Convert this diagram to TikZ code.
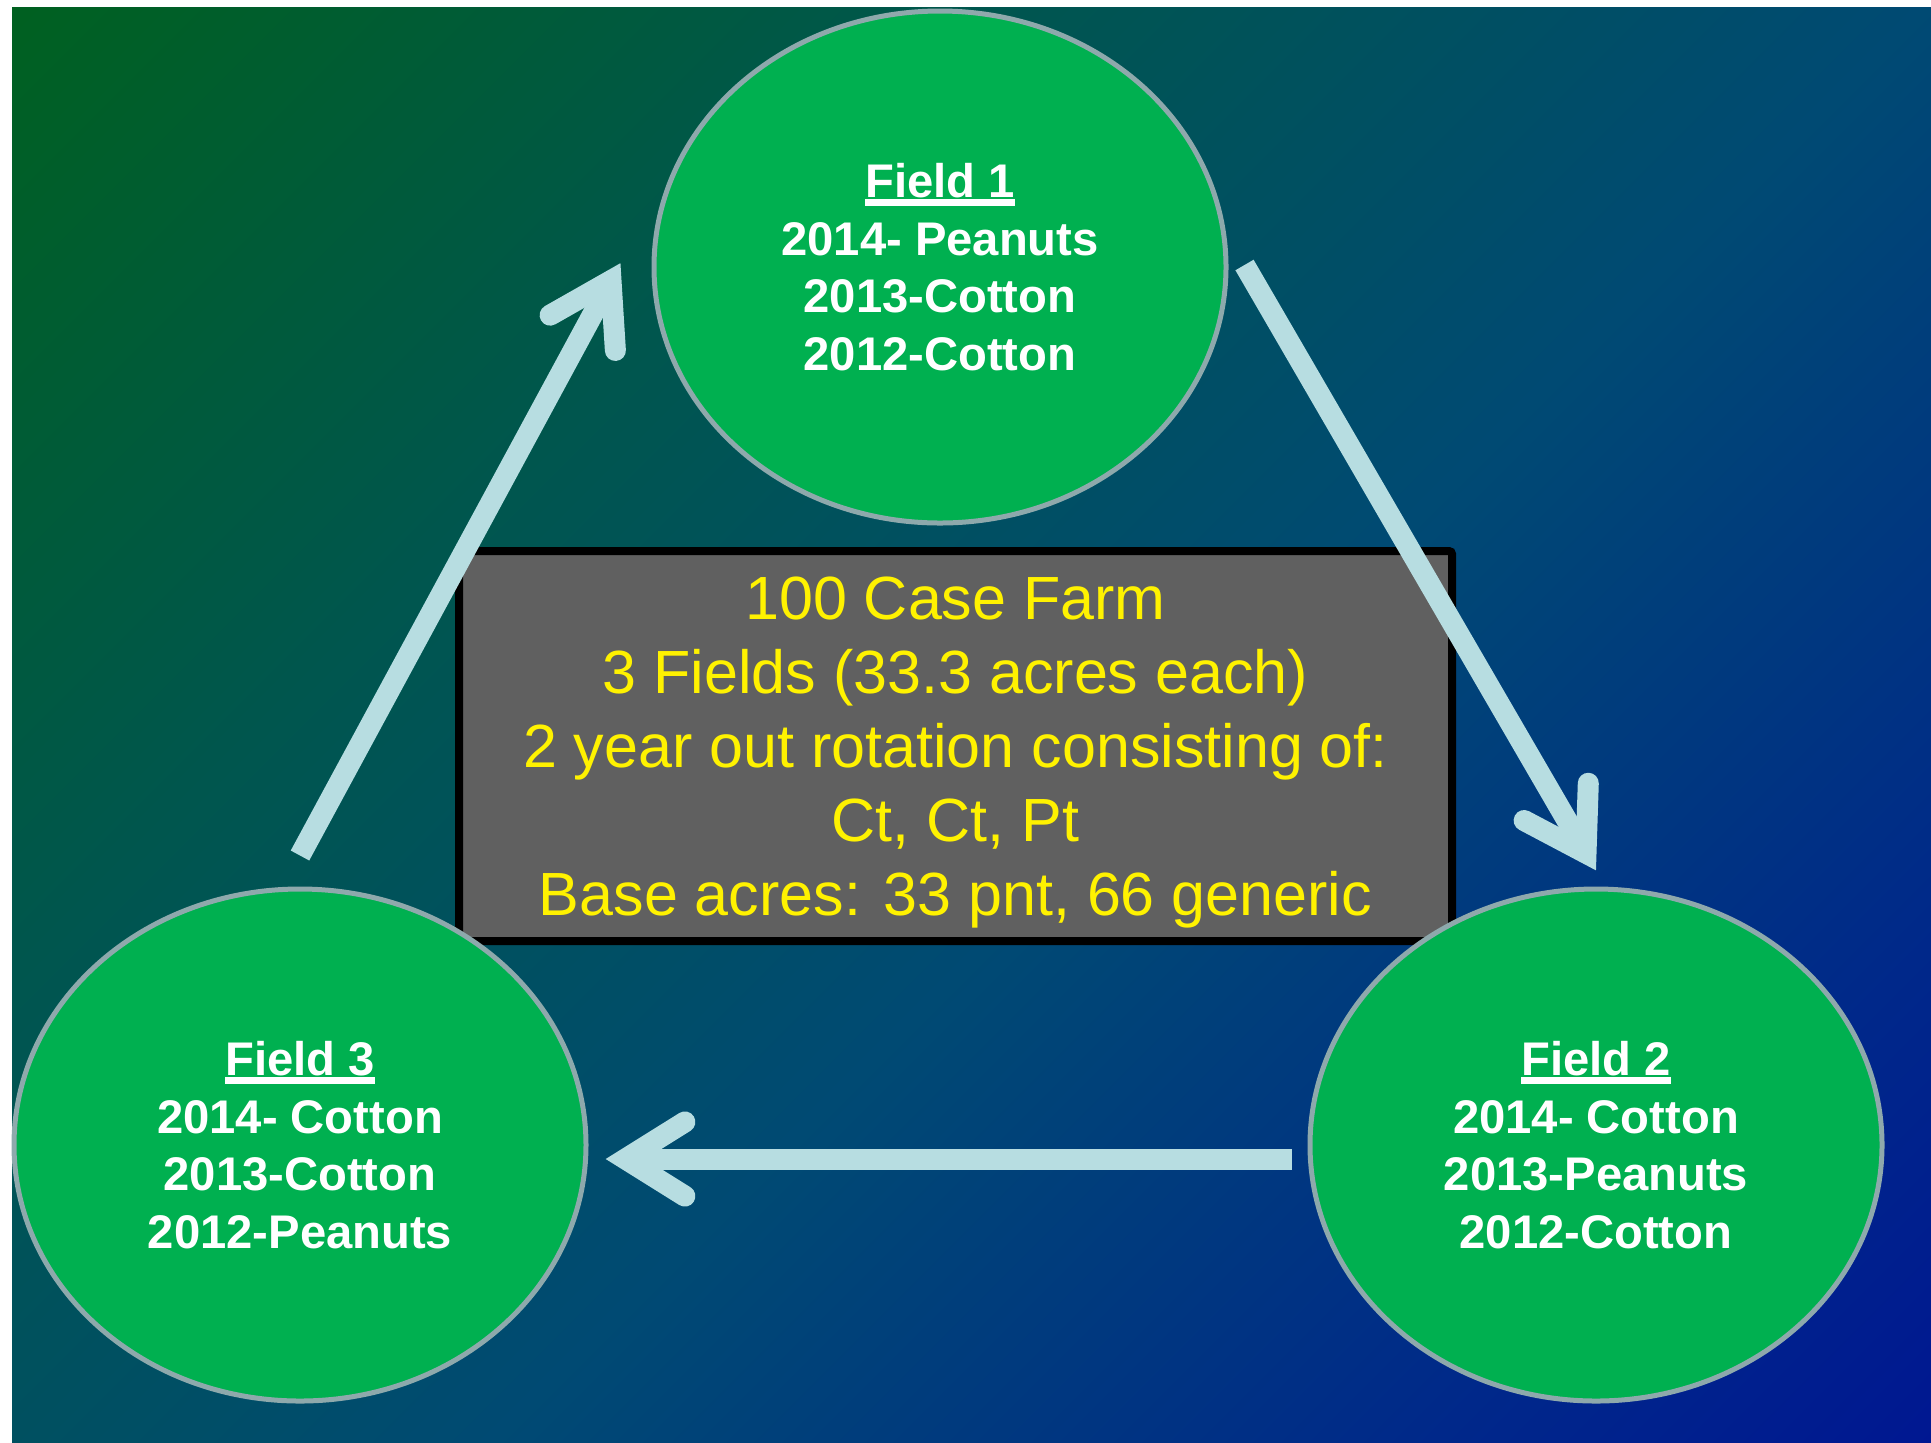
\documentclass[tikz,border=0pt]{standalone}
\usepackage{fontspec}
\setmainfont{Liberation Sans}
\usetikzlibrary{positioning,calc,shapes.geometric}
\definecolor{bggreen}{RGB}{0,104,0}
\definecolor{bgteal}{RGB}{0,86,78}
\definecolor{bgsea}{RGB}{0,74,115}
\definecolor{bgnavy}{RGB}{0,40,138}
\definecolor{bgblue}{RGB}{0,0,155}
\definecolor{fieldgreen}{HTML}{00B050}
\definecolor{fieldrim}{HTML}{8EA9AC}
\definecolor{flowblue}{HTML}{B7DDE1}
\definecolor{farmgrey}{HTML}{606060}
\pgfdeclarehorizontalshading{farmsky}{100bp}{color(0bp)=(bggreen); color(35bp)=(bgteal); color(55bp)=(bgsea); color(75bp)=(bgnavy); color(100bp)=(bgblue)}
\def\fieldwidth{286pt}
\def\fieldheight{256pt}
\def\flowwidth{10.5pt}
\newcommand{\fieldhead}[1]{\setbox0\hbox{#1}\rlap{\rule[-4.5pt]{\wd0}{3.5pt}}\box0}

\begin{document}
\begin{tikzpicture}[x=0.5pt, y=-0.5pt, flow/.style={draw=flowblue, line width=\flowwidth}, flowhead/.style={flow, line cap=round, line join=miter}]
    \tikzstyle{field}=[ellipse, draw=fieldrim, line width=2.5pt, fill=fieldgreen, minimum width=\fieldwidth, minimum height=\fieldheight, inner sep=0pt, text=white, align=center, font=\fontsize{23.6}{28.8}\selectfont\bfseries]
    \tikzstyle{farm}=[rectangle, draw=black, line width=4pt, fill=farmgrey, rounded corners=1.5pt, minimum width=496.5pt, minimum height=195pt, text=yellow, align=center, text depth=0pt, font=\fontsize{30.5}{37}\selectfont]
    \useasboundingbox (0,0) rectangle (1931,1442);
    % Background
    \fill[shading=farmsky, shading angle=-45] (12,7) rectangle (1931,1442);

    % Draw the nodes
    \node[farm] (farm) at (955.5,746) {100 Case Farm\\3 Fields (33.3 acres each)\\2 year out rotation consisting of:\\Ct, Ct, Pt\\Base acres: 33 pnt, 66 generic};
    \node[field] (F-1) at (940,267) {\fieldhead{Field 1}\\2014- Peanuts\\2013-Cotton\\2012-Cotton};
    \node[field] (F-2) at (1596,1145) {\fieldhead{Field 2}\\2014- Cotton\\2013-Peanuts\\2012-Cotton};
    \node[field] (F-3) at (300,1145) {\fieldhead{Field 3}\\2014- Cotton\\2013-Cotton\\2012-Peanuts};

    % Rotation arrows
    \coordinate (s-1) at ($(F-3.north)+(0,-31)$);
    \coordinate (t-1) at ($(F-1.west)+(-40.5,13.6)$);
    \coordinate (s-2) at ($(F-1.east)+(16,-2)$);
    \coordinate (t-2) at ($(F-2.north)+(-10,-33.3)$);
    \coordinate (s-3) at ($(F-2.west)+(-16,14)$);
    \coordinate (t-3) at ($(F-3.east)+(37,14)$);

    \foreach \i in {1,2,3}{
        \draw[flow] (s-\i) -- (t-\i);
        \draw[flowhead] ($(t-\i)!35pt!32:(s-\i)$) -- (t-\i) -- ($(t-\i)!35pt!-32:(s-\i)$);
    }
\end{tikzpicture}
\end{document}
